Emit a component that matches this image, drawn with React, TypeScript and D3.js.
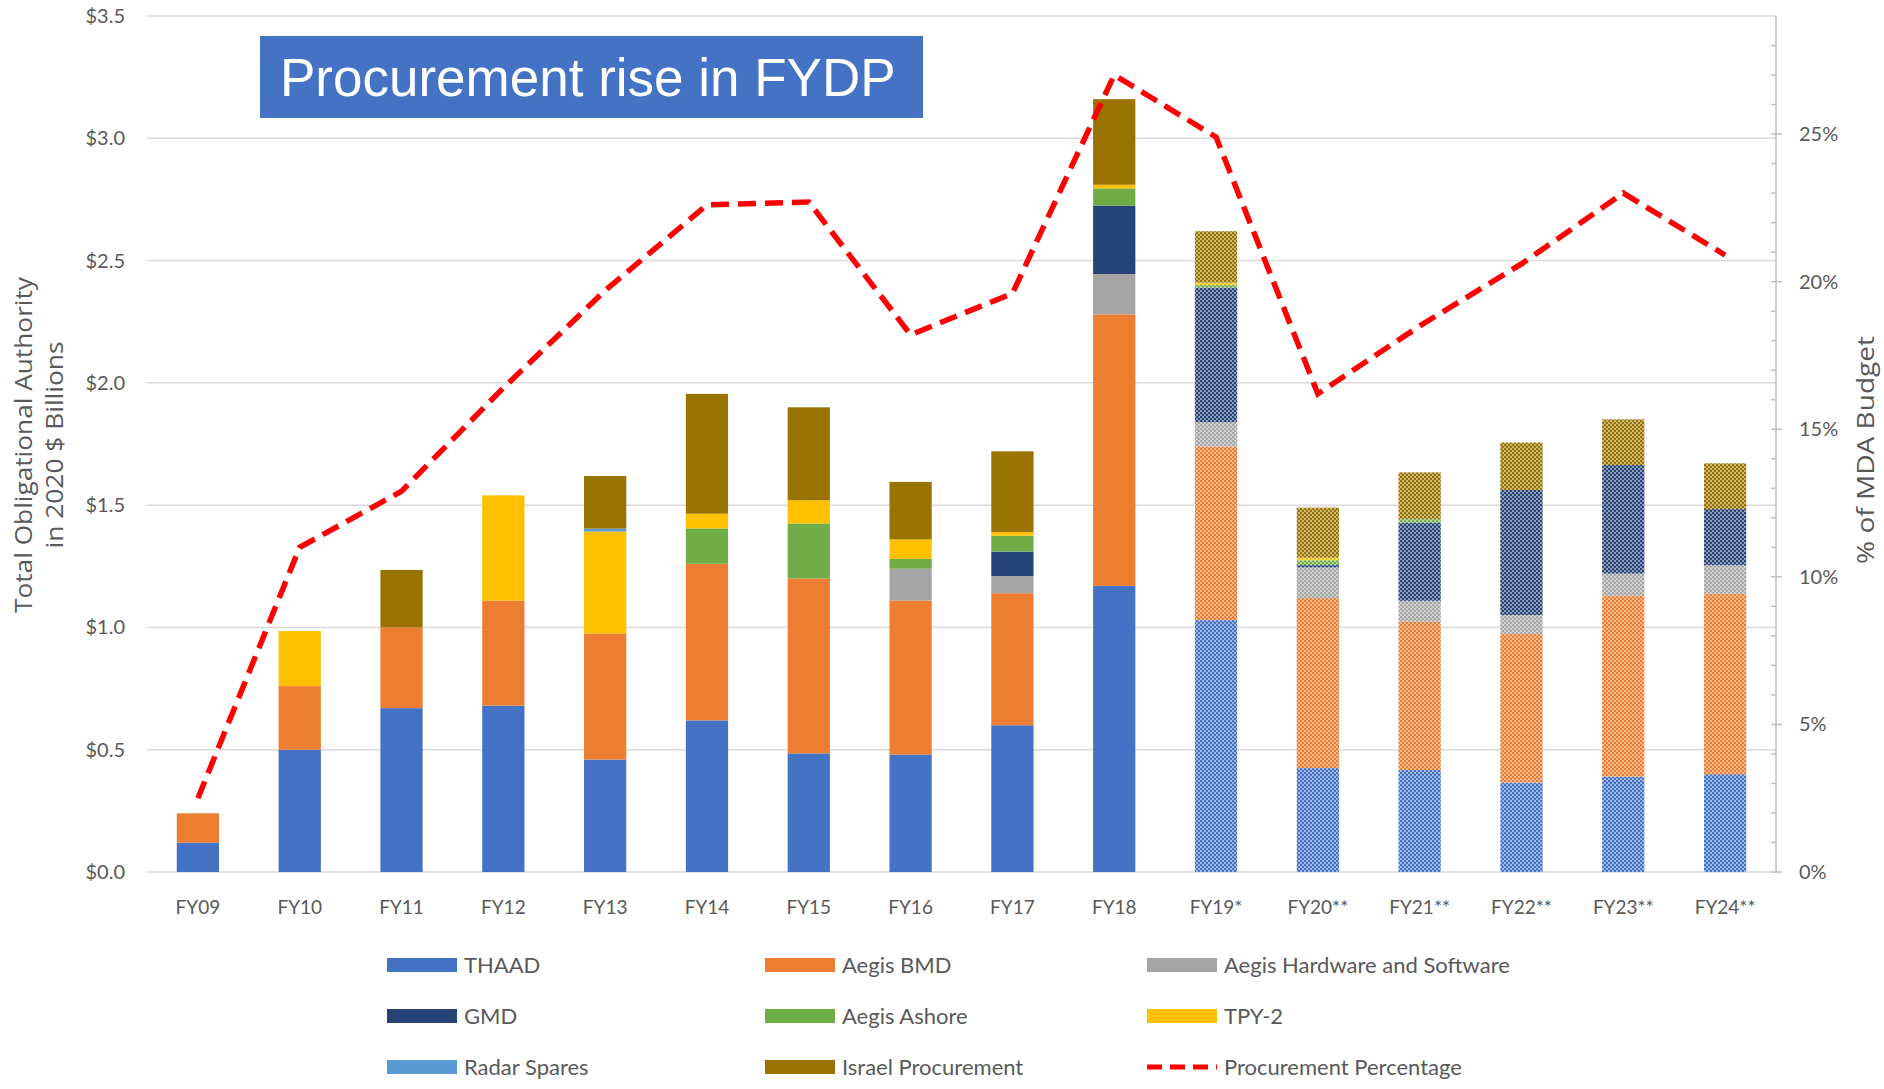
import React, { useEffect } from 'react';
import * as d3 from 'd3';

// categories and series ($ billions)
const categories = ['FY09', 'FY10', 'FY11', 'FY12', 'FY13', 'FY14', 'FY15', 'FY16', 'FY17', 'FY18', 'FY19*', 'FY20**', 'FY21**', 'FY22**', 'FY23**', 'FY24**'];
const projected = ['FY19*', 'FY20**', 'FY21**', 'FY22**', 'FY23**', 'FY24**'];

const thaad = [0.12, 0.50, 0.67, 0.68, 0.46, 0.62, 0.485, 0.48, 0.60, 1.17, 1.03, 0.425, 0.417, 0.366, 0.39, 0.40];
const aegisBmd = [0.12, 0.26, 0.33, 0.43, 0.515, 0.64, 0.715, 0.63, 0.54, 1.11, 0.71, 0.695, 0.607, 0.607, 0.739, 0.738];
const aegisHw = [0, 0, 0, 0, 0, 0, 0, 0.13, 0.07, 0.165, 0.10, 0.125, 0.085, 0.077, 0.091, 0.116];
const gmd = [0, 0, 0, 0, 0, 0, 0, 0, 0.10, 0.28, 0.55, 0.01, 0.32, 0.512, 0.444, 0.23];
const aegisAshore = [0, 0, 0, 0, 0, 0.145, 0.225, 0.04, 0.065, 0.07, 0.01, 0.02, 0.015, 0, 0, 0];
const tpy2 = [0, 0.225, 0, 0.43, 0.417, 0.06, 0.095, 0.08, 0.015, 0.015, 0.01, 0.01, 0, 0, 0, 0];
const radarSpares = [0, 0, 0, 0, 0.012, 0, 0, 0, 0, 0, 0, 0, 0, 0, 0, 0];
const israel = [0, 0, 0.235, 0, 0.215, 0.49, 0.38, 0.235, 0.33, 0.35, 0.21, 0.205, 0.19, 0.194, 0.187, 0.187];

// % of MDA budget
const procurementPct = [2.5, 11.0, 12.9, 16.4, 19.7, 22.6, 22.7, 18.2, 19.6, 27.0, 24.9, 16.2, 18.5, 20.6, 23.0, 20.9];

const seriesNames = ['THAAD', 'Aegis BMD', 'Aegis Hardware and Software', 'GMD', 'Aegis Ashore', 'TPY-2', 'Radar Spares', 'Israel Procurement'];
const seriesValues = [thaad, aegisBmd, aegisHw, gmd, aegisAshore, tpy2, radarSpares, israel];
const seriesColors = ['#4472C4', '#ED7D31', '#A5A5A5', '#264478', '#70AD47', '#FFC000', '#5B9BD5', '#997300'];

const leftTicks = [0, 0.5, 1.0, 1.5, 2.0, 2.5, 3.0, 3.5];
const rightTicks = [0, 5, 10, 15, 20, 25];

const W = 1884;
const H = 1089;
const FONT = "Lato, 'Open Sans', sans-serif";
const TITLE_FONT = "'Open Sans', Lato, sans-serif";
const GREY = '#595959';

export default function App() {
  useEffect(() => {
    document.body.style.margin = '0';
  }, []);

  const x = d3.scaleBand<string>()
    .domain(categories)
    .range([147, 1776])
    .paddingInner(0.585)
    .paddingOuter(0.2925);
  const y = d3.scaleLinear().domain([0, 3.5]).range([872, 16]);
  const y2 = d3.scaleLinear().domain([0, 29]).range([872, 16]);

  const rows = categories.map((c, i) => {
    const r: Record<string, any> = { cat: c };
    seriesNames.forEach((n, k) => { r[n] = seriesValues[k][i]; });
    return r;
  });
  const stacked = d3.stack<Record<string, any>>().keys(seriesNames)(rows);

  const cx = (c: string) => (x(c) as number) + x.bandwidth() / 2;

  const line = d3.line<number>()
    .x((_, i) => cx(categories[i]))
    .y(d => y2(d));

  const minorTicks = d3.range(0, 29).filter(d => d % 5 !== 0);

  const legendCols = [387, 765, 1147];
  const legendRows = [965, 1016, 1067];
  const legendItems = [
    ...seriesNames.map((n, k) => ({ name: n, color: seriesColors[k], dashed: false })),
    { name: 'Procurement Percentage', color: '#FF0000', dashed: true },
  ];

  return (
    <div style={{ position: 'absolute', left: 0, top: 0 }}>
      <svg width={W} height={H} style={{ display: 'block', background: '#fff' }}>
        <defs>
          {seriesColors.map((c, k) => (
            <pattern key={k} id={`dots-${k}`} width={4} height={4} patternUnits="userSpaceOnUse">
              <rect width={4} height={4} fill={d3.interpolateRgb(c, '#ffffff')(0.55)} />
              <circle cx={1} cy={1} r={1.3} fill={c} />
              <circle cx={3} cy={3} r={1.3} fill={c} />
            </pattern>
          ))}
        </defs>

        {/* gridlines */}
        {leftTicks.map(t => (
          <line key={t} x1={147} x2={1776} y1={y(t)} y2={y(t)} stroke="#D9D9D9" strokeWidth={1.5} />
        ))}

        {/* left tick labels */}
        {leftTicks.map(t => (
          <text key={t} x={125} y={y(t)} dy="0.35em" textAnchor="end"
            fontFamily={FONT} fontSize={20} fill={GREY}>{`$${t.toFixed(1)}`}</text>
        ))}

        {/* right axis */}
        <line x1={1776} x2={1776} y1={y2(29)} y2={y2(0)} stroke="#BFBFBF" strokeWidth={1.5} />
        {minorTicks.map(t => (
          <line key={t} x1={1771} x2={1776} y1={y2(t)} y2={y2(t)} stroke="#BFBFBF" strokeWidth={1.5} />
        ))}
        {rightTicks.map(t => (
          <g key={t}>
            <line x1={1771} x2={1782} y1={y2(t)} y2={y2(t)} stroke="#BFBFBF" strokeWidth={1.5} />
            <text x={1799} y={y2(t)} dy="0.35em" fontFamily={FONT} fontSize={20} fill={GREY}>{`${t}%`}</text>
          </g>
        ))}

        {/* stacked bars */}
        {stacked.map((s, k) => (
          <g key={s.key}>
            {s.map((d, i) => {
              const cat = categories[i];
              const h = y(d[0]) - y(d[1]);
              if (h <= 0) return null;
              const fill = projected.includes(cat) ? `url(#dots-${k})` : seriesColors[k];
              return (
                <rect key={cat} x={x(cat)} y={y(d[1])} width={x.bandwidth()} height={h} fill={fill} />
              );
            })}
          </g>
        ))}

        {/* procurement percentage line */}
        <path d={line(procurementPct) || ''} fill="none" stroke="#FF0000" strokeWidth={5.5}
          strokeDasharray="18 9" />

        {/* x labels */}
        {categories.map(c => (
          <text key={c} x={cx(c)} y={907} dy="0.35em" textAnchor="middle"
            fontFamily={FONT} fontSize={19} fill={GREY}>{c}</text>
        ))}

        {/* axis titles */}
        <text transform="translate(24,445) rotate(-90)" textAnchor="middle" dy="0.35em"
          fontFamily={TITLE_FONT} fontSize={24} fill={GREY}
          textLength={336} lengthAdjust="spacingAndGlyphs">Total Obligational Authority</text>
        <text transform="translate(55,445) rotate(-90)" textAnchor="middle" dy="0.35em"
          fontFamily={TITLE_FONT} fontSize={24} fill={GREY}
          textLength={207} lengthAdjust="spacingAndGlyphs">in 2020 $ Billions</text>
        <text transform="translate(1866,450) rotate(-90)" textAnchor="middle" dy="0.35em"
          fontFamily={TITLE_FONT} fontSize={24} fill={GREY}
          textLength={228} lengthAdjust="spacingAndGlyphs">% of MDA Budget</text>

        {/* title box */}
        <rect x={260} y={36} width={663} height={82} fill="#4472C4" />
        <text x={280} y={77} dy="0.35em" fontFamily="'Liberation Sans', Arial, sans-serif"
          fontSize={53} fill="#ffffff">Procurement rise in FYDP</text>

        {/* legend */}
        {legendItems.map((item, i) => {
          const lx = legendCols[i % 3];
          const ly = legendRows[Math.floor(i / 3)];
          return (
            <g key={item.name}>
              {item.dashed ? (
                <line x1={lx} x2={lx + 70} y1={ly} y2={ly} stroke={item.color} strokeWidth={5}
                  strokeDasharray="15 8" />
              ) : (
                <rect x={lx} y={ly - 7} width={70} height={14} fill={item.color} />
              )}
              <text x={lx + 77} y={ly} dy="0.35em" fontFamily={FONT} fontSize={22} fill={GREY}>
                {item.name}
              </text>
            </g>
          );
        })}
      </svg>
    </div>
  );
}
